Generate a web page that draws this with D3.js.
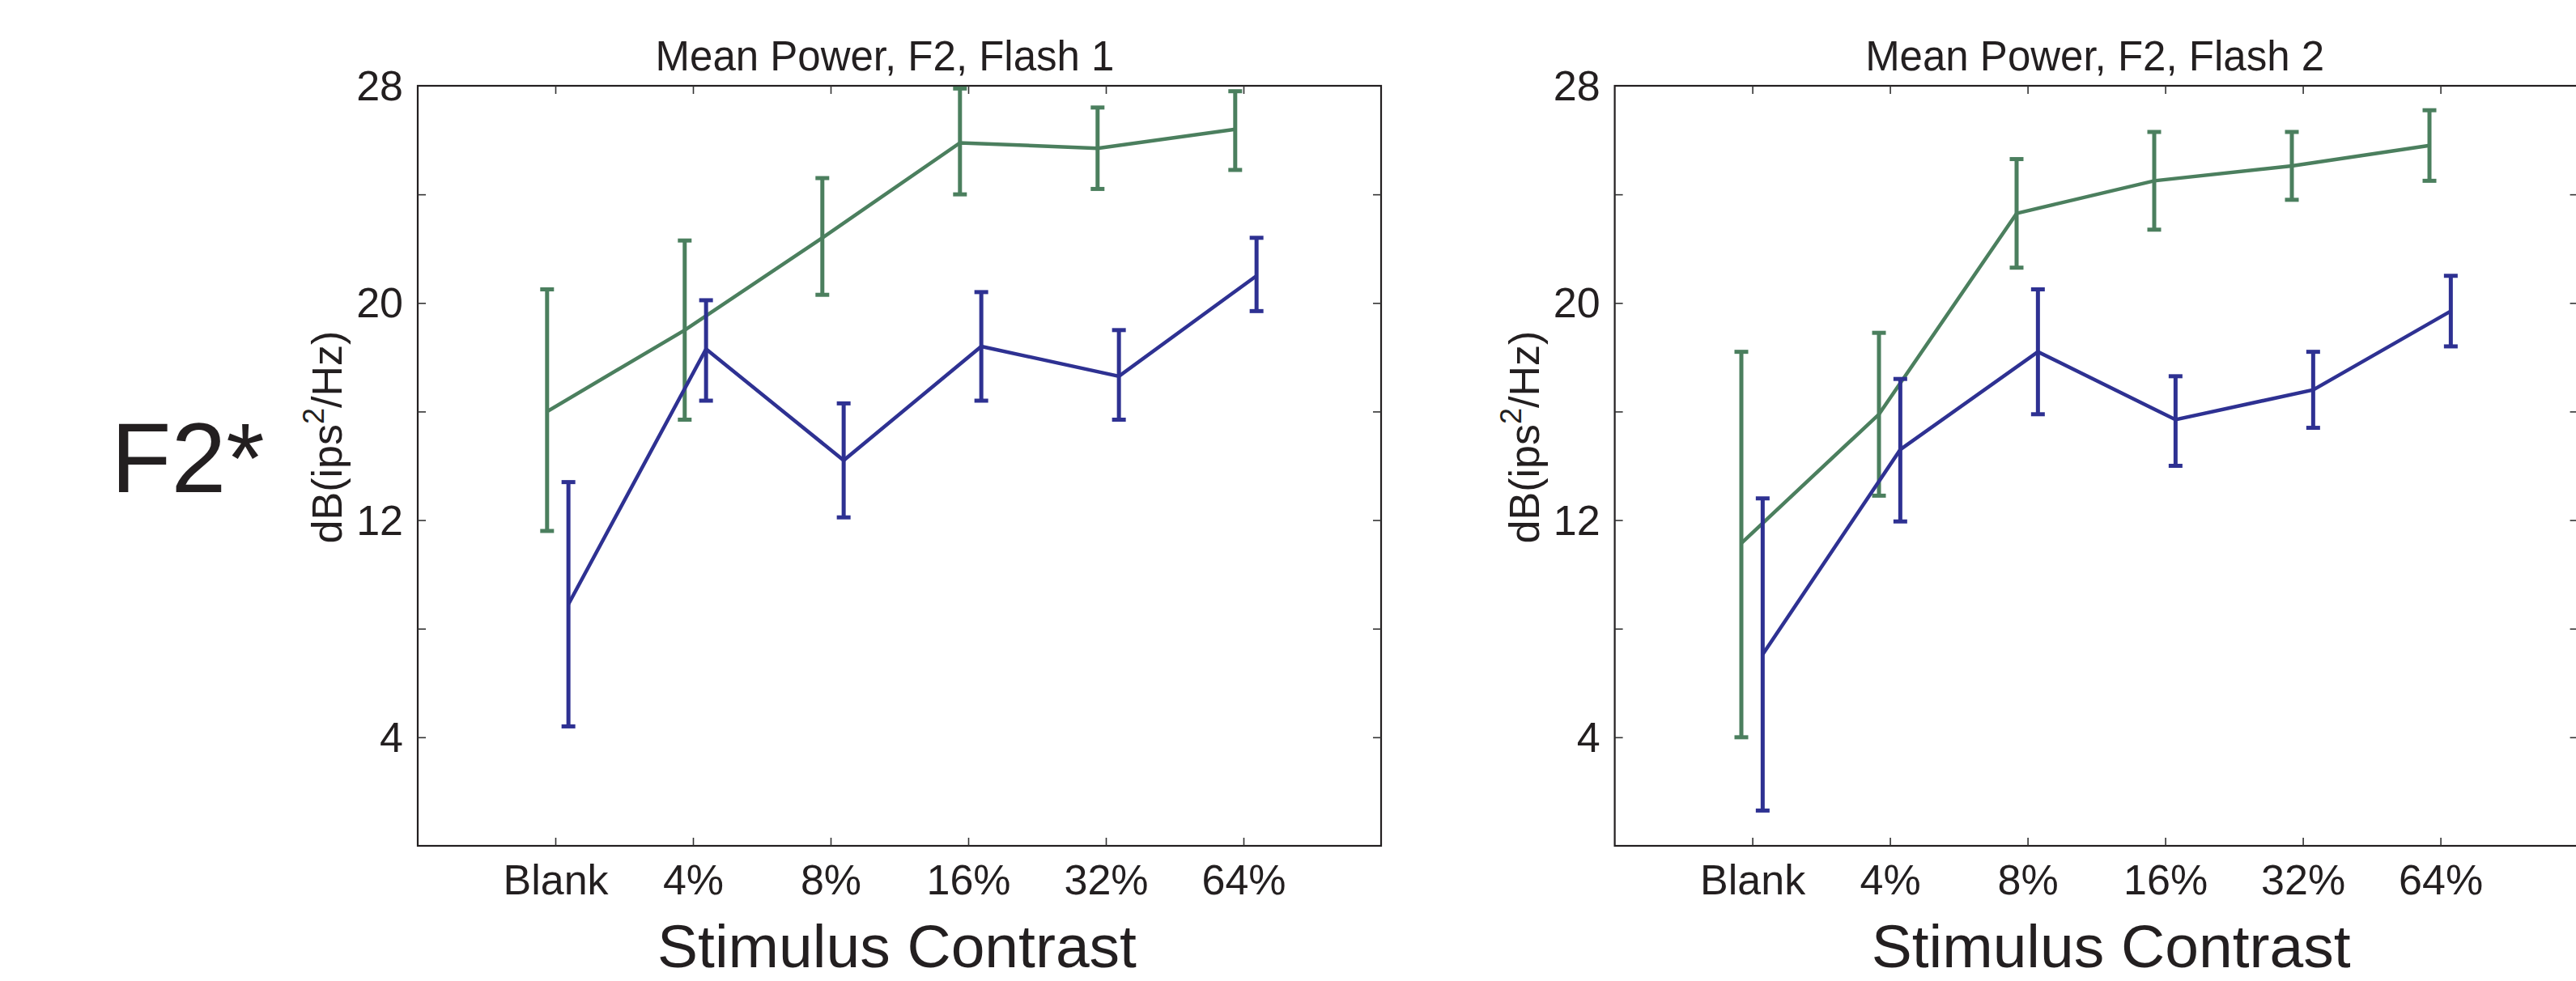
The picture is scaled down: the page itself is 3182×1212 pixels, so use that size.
<!DOCTYPE html>
<html>
<head>
<meta charset="utf-8">
<script src="https://cdn.jsdelivr.net/npm/d3@7"></script>
<style>
  html, body { margin: 0; padding: 0; background: #ffffff; }
  svg { display: block; }
  text { font-family: "Liberation Sans", Arial, Helvetica, sans-serif; fill: #231f20; }
</style>
</head>
<body>
<svg id="chart" width="3182" height="1212"></svg>
<script>
// ---------------- data ----------------
const categories = ["Blank", "4%", "8%", "16%", "32%", "64%"];
const yTickValues = [4, 8, 12, 16, 20, 24];
const yTickLabels = [4, 12, 20, 28];

const titles = ["Mean Power, F2, Flash 1", "Mean Power, F2, Flash 2"];
const rowLabel = "F2*";
const xAxisLabel = "Stimulus Contrast";

// Flash 1
const flash1Green   = [16.0, 19.0, 22.4, 25.9, 25.7, 26.4];
const flash1GreenHi = [20.5, 22.3, 24.6, 27.9, 27.2, 27.8];
const flash1GreenLo = [11.6, 15.7, 20.3, 24.0, 24.2, 24.9];
const flash1Blue    = [8.9, 18.3, 14.2, 18.4, 17.3, 21.0];
const flash1BlueHi  = [13.4, 20.1, 16.3, 20.4, 19.0, 22.4];
const flash1BlueLo  = [4.4, 16.4, 12.1, 16.4, 15.7, 19.7];

// Flash 2
const flash2Green   = [11.15, 15.9, 23.3, 24.5, 25.05, 25.8];
const flash2GreenHi = [18.2, 18.9, 25.3, 26.3, 26.3, 27.1];
const flash2GreenLo = [4.0, 12.9, 21.3, 22.7, 23.8, 24.5];
const flash2Blue    = [7.05, 14.6, 18.2, 15.7, 16.8, 19.7];
const flash2BlueHi  = [12.8, 17.2, 20.5, 17.3, 18.2, 21.0];
const flash2BlueLo  = [1.3, 11.95, 15.9, 14.0, 15.4, 18.4];

// ---------------- layout / style ----------------
const GREEN = "#4b7f5e";
const BLUE = "#2e3192";
const INK = "#231f20";
const TOP = 106, BOTTOM = 1045;

const panels = [
  { title: titles[0], left: 516, right: 1706, xLabelDx: -3, titleDx: -18,
    series: [
      { color: GREEN, mean: flash1Green, hi: flash1GreenHi, lo: flash1GreenLo, off: -0.06 },
      { color: BLUE,  mean: flash1Blue,  hi: flash1BlueHi,  lo: flash1BlueLo,  off: 0.095 }
    ] },
  { title: titles[1], left: 1994.6, right: 3184.6, xLabelDx: 18, titleDx: -2,
    series: [
      { color: GREEN, mean: flash2Green, hi: flash2GreenHi, lo: flash2GreenLo, off: -0.08 },
      { color: BLUE,  mean: flash2Blue,  hi: flash2BlueHi,  lo: flash2BlueLo,  off: 0.075 }
    ] }
];

const svg = d3.select("#chart");

// Row label
svg.append("text")
  .attr("x", 137).attr("y", 608)
  .attr("font-size", 122)
  .text(rowLabel);

panels.forEach(p => {
  const x = d3.scaleLinear().domain([0, 7]).range([p.left, p.right]);
  const y = d3.scaleLinear().domain([0, 28]).range([BOTTOM, TOP]);
  const g = svg.append("g");
  const cx = (p.left + p.right) / 2;

  // frame
  g.append("rect")
    .attr("x", p.left).attr("y", TOP)
    .attr("width", p.right - p.left).attr("height", BOTTOM - TOP)
    .attr("fill", "none").attr("stroke", INK).attr("stroke-width", 2.2);

  const tickIdx = d3.range(1, categories.length + 1);

  // bottom axis (inward ticks + category labels)
  const bx = g.append("g").attr("transform", `translate(0,${BOTTOM})`)
    .call(d3.axisBottom(x).tickValues(tickIdx).tickSize(-10).tickPadding(23)
      .tickFormat(i => categories[i - 1]));
  // top axis
  const tx = g.append("g").attr("transform", `translate(0,${TOP})`)
    .call(d3.axisTop(x).tickValues(tickIdx).tickSize(-10).tickFormat(""));
  // left axis
  const lx = g.append("g").attr("transform", `translate(${p.left},0)`)
    .call(d3.axisLeft(y).tickValues(yTickValues.concat([28])).tickSize(-10).tickPadding(18)
      .tickFormat(d => yTickLabels.includes(d) ? d : ""));
  // right axis
  const rx = g.append("g").attr("transform", `translate(${p.right},0)`)
    .call(d3.axisRight(y).tickValues(yTickValues).tickSize(-10).tickFormat(""));

  [bx, tx, lx, rx].forEach(a => {
    a.select(".domain").remove();
    a.selectAll(".tick line").attr("stroke", "#333").attr("stroke-width", 1.6);
    a.selectAll("text").attr("font-size", 52).attr("fill", INK)
      .attr("font-family", '"Liberation Sans", Arial, sans-serif');
  });
  lx.selectAll(".tick").filter(d => d === 28).select("line").remove();
  lx.selectAll("text").attr("dy", "0.34em");

  // title
  g.append("text")
    .attr("x", cx + p.titleDx).attr("y", 87)
    .attr("text-anchor", "middle").attr("font-size", 51)
    .text(p.title);

  // x axis label
  g.append("text")
    .attr("x", cx + p.xLabelDx).attr("y", 1195)
    .attr("text-anchor", "middle").attr("font-size", 75)
    .text(xAxisLabel);

  // y axis label
  const yl = g.append("text")
    .attr("transform", `translate(${p.left - 94},540) rotate(-90)`)
    .attr("text-anchor", "middle").attr("font-size", 52);
  yl.append("tspan").text("dB(ips");
  yl.append("tspan").attr("font-size", 36).attr("dy", -22).text("2");
  yl.append("tspan").attr("dy", 22).text("/Hz)");

  // series
  p.series.forEach(s => {
    const line = d3.line()
      .x((d, i) => x(i + 1 + s.off))
      .y(d => y(d));
    g.append("path")
      .datum(s.mean)
      .attr("d", line)
      .attr("fill", "none").attr("stroke", s.color)
      .attr("stroke-width", 4.5).attr("stroke-linejoin", "miter");

    const eb = g.append("g").attr("stroke", s.color).attr("stroke-width", 5);
    s.mean.forEach((m, i) => {
      const xp = x(i + 1 + s.off);
      eb.append("line").attr("x1", xp).attr("x2", xp)
        .attr("y1", y(s.lo[i])).attr("y2", y(s.hi[i]));
      eb.append("line").attr("x1", xp - 8.5).attr("x2", xp + 8.5)
        .attr("y1", y(s.hi[i])).attr("y2", y(s.hi[i]));
      eb.append("line").attr("x1", xp - 8.5).attr("x2", xp + 8.5)
        .attr("y1", y(s.lo[i])).attr("y2", y(s.lo[i]));
    });
  });
});
</script>
</body>
</html>
